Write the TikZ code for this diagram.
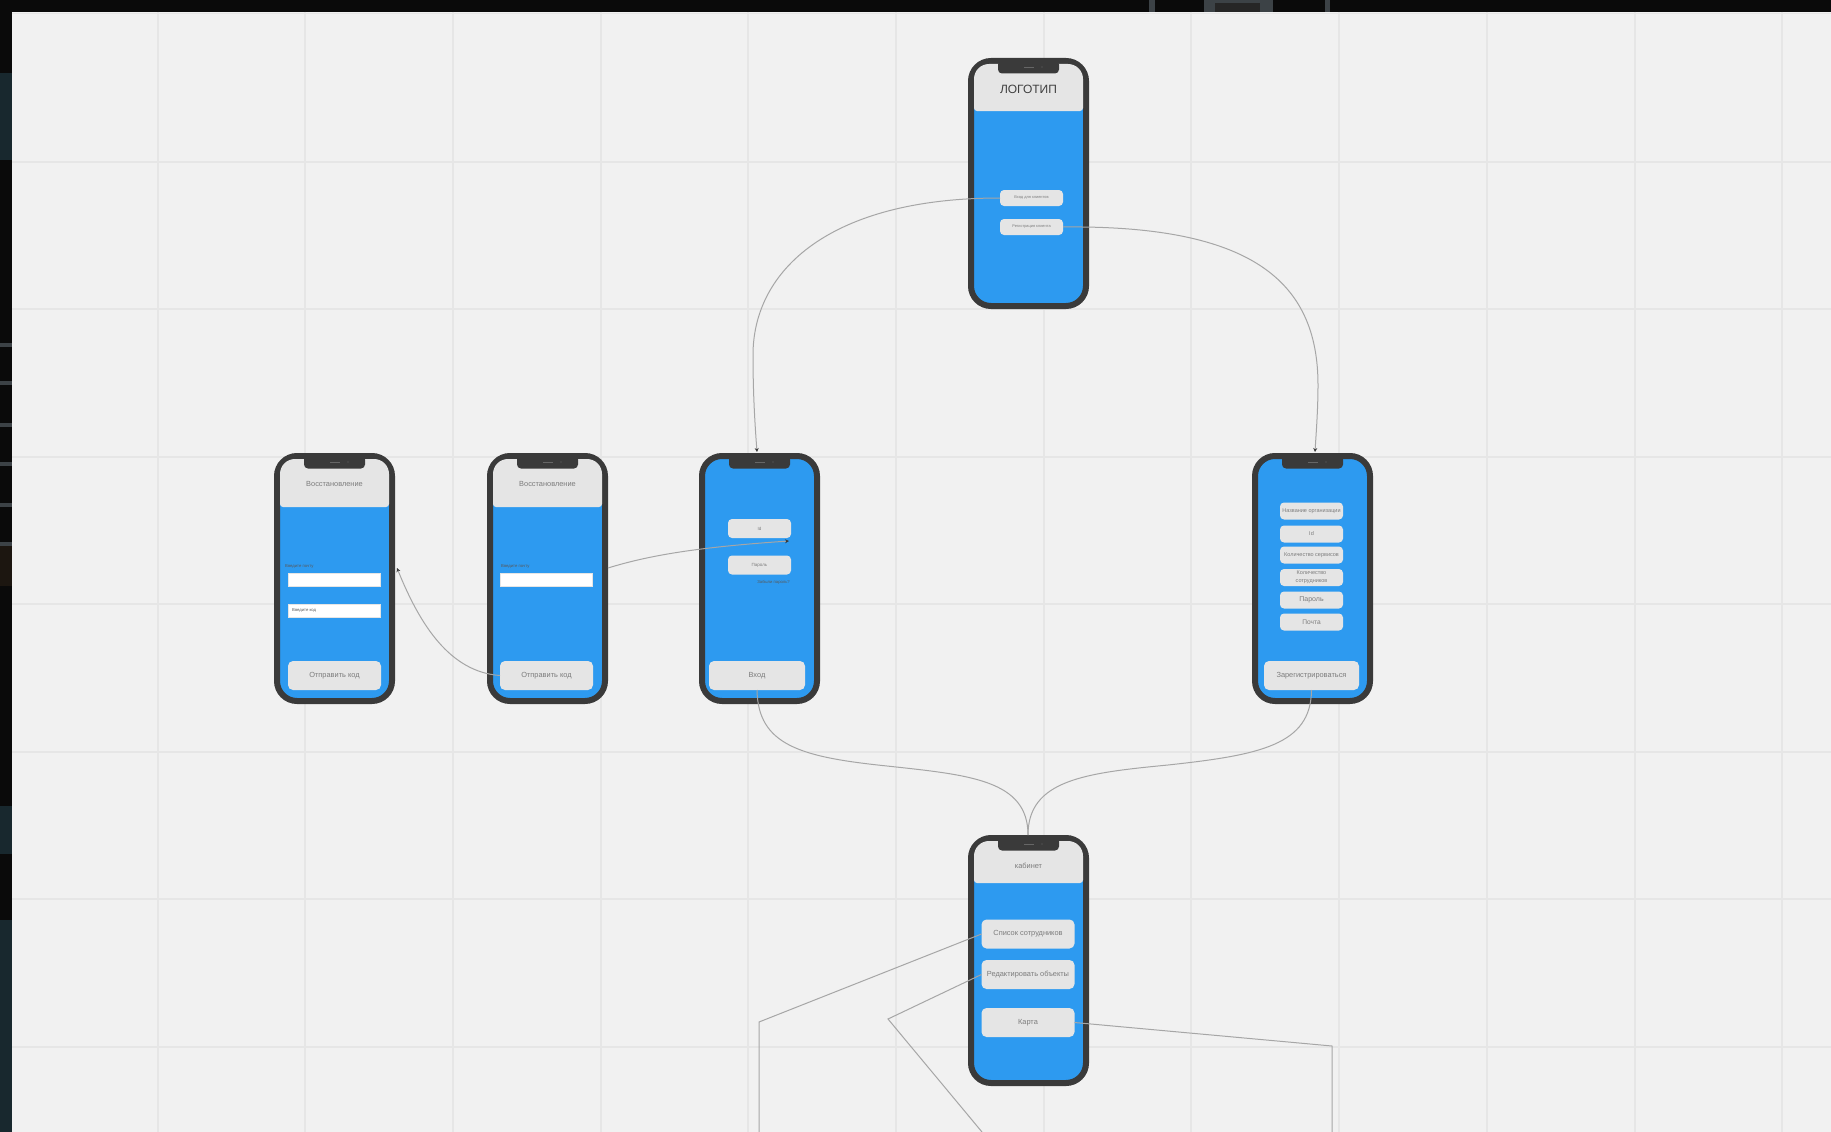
\documentclass[tikz,border=0pt]{standalone}
\usepackage{fontspec}
\usepackage{xcolor}
\setmainfont{Liberation Sans}
\usetikzlibrary{arrows.meta}

\definecolor{panelbg}{HTML}{F1F1F1}
\definecolor{gridgray}{HTML}{E6E6E6}
\definecolor{framedark}{HTML}{3A3A3A}
\definecolor{screenblue}{HTML}{2D9AF0}
\definecolor{boxgray}{HTML}{E5E5E5}
\definecolor{linegray}{HTML}{A6A6A6}
\definecolor{textgray}{HTML}{7C7C7C}
\definecolor{edgeteal}{HTML}{18282E}
\definecolor{edgebrown}{HTML}{1C1610}
\definecolor{edgestreak}{HTML}{3C4246}

\tikzset{
  gridline/.style={gridgray, line width=2pt},
  phone/.style={draw=framedark, fill=screenblue, line width=6pt, rounded corners=20pt,
    minimum width=115pt, minimum height=245pt, inner sep=0pt, outer sep=0pt},
  notch/.style={fill=framedark, rounded corners=4pt, minimum width=61pt, minimum height=13pt, inner sep=0pt},
  headtext/.style={text=textgray, font=\fontsize{7.4}{9}\selectfont, inner sep=0pt},
  uibox/.style={fill=boxgray, rounded corners=4pt, inner sep=0pt, outer sep=0pt, align=center, text=textgray},
  tinybtn/.style={uibox, minimum width=63pt, minimum height=16pt, font=\fontsize{3.9}{5}\selectfont},
  smallbtn/.style={uibox, minimum width=63pt, minimum height=17pt, font=\fontsize{5.5}{8}\selectfont},
  midbtn/.style={uibox, minimum width=63pt, minimum height=19pt, font=\fontsize{4.5}{6}\selectfont},
  widebtn/.style={uibox, rounded corners=5pt, minimum width=93pt, minimum height=29pt, font=\fontsize{7.4}{9}\selectfont},
  field/.style={fill=white, draw=boxgray, line width=0.6pt, minimum width=92pt, minimum height=13pt,
    inner sep=0pt, outer sep=0pt},
  hint/.style={text=black!65, font=\fontsize{4.2}{5}\selectfont, inner sep=0pt},
  link/.style={draw=linegray, line width=1pt},
  linkarrow/.style={link, -{Stealth[length=4pt, width=4pt, color=framedark]}},
}

% name, left, top, height of the grey head, head text
\newcommand{\phoneframe}[5]{
  \node[phone] (#1) at ({#2+60.5},{#3+125.5}) {};
  \ifnum#4>0
    \fill[boxgray, rounded corners=3pt] ({#2+6},{#3+#4}) [rounded corners=15pt] -- ({#2+6},{#3+6})
      -- ({#2+115},{#3+6}) [rounded corners=3pt] -- ({#2+115},{#3+#4}) -- cycle;
    \node[headtext] (#1head) at ({#2+60.5},{#3+31}) {#5};
  \fi
  \node[notch] (#1notch) at ({#2+60.5},{#3+9}) {};
  \draw[black!60, line width=0.6pt] ({#2+56},{#3+9}) -- ({#2+66},{#3+9});
  \fill[black!60] ({#2+74},{#3+9}) circle (0.6pt);
}

\begin{document}
\begin{tikzpicture}[x=1pt, y=-1pt]
\useasboundingbox (0,0) rectangle (1831,1132);

% Backdrop
\fill[black!96] (0,0) rectangle (1831,1132);
\fill[edgeteal] (0,73) rectangle (12,160);
\foreach \sy in {343,381,423,462,503,542} {
  \fill[edgestreak] (0,\sy) rectangle (12,\sy+4);
}
\fill[edgebrown] (0,546) rectangle (12,586);
\fill[edgeteal] (0,806) rectangle (12,854);
\fill[edgeteal] (0,920) rectangle (12,1132);
\fill[edgestreak] (1149,0) rectangle (1155,12);
\fill[edgestreak] (1204,0) rectangle (1273,12);
\fill[black!85] (1215,3) rectangle (1260,12);
\fill[edgestreak] (1325,0) rectangle (1330,12);
\fill[panelbg] (12,12) rectangle (1831,1132);

% Grid
\foreach \gx in {0,...,11} {
  \draw[gridline] ({157.5+147.7*\gx},12) -- ({157.5+147.7*\gx},1132);
}
\foreach \gy in {0,...,6} {
  \draw[gridline] (12,{161.5+147.5*\gy}) -- (1831,{161.5+147.5*\gy});
}
\draw[gridline, line width=1pt] (12,14) -- (1831,14);

% Phones
\phoneframe{logoscreen}{968}{58}{53}{{\fontsize{12}{14}\selectfont\color{black!75}ЛОГОТИП}}
\phoneframe{resetcode}{274}{453}{54}{Восстановление}
\phoneframe{resetsend}{487}{453}{54}{Восстановление}
\phoneframe{loginscreen}{699}{453}{0}{}
\phoneframe{signup}{1252}{453}{0}{}
\phoneframe{cabinet}{968}{835}{48}{кабинет}

% Logo screen
\node[tinybtn] (enter) at (1031.5,198) {Вход для клиентов};
\node[tinybtn] (register) at (1031.5,227) {Регистрация клиента};

% Reset screens
\node[hint, anchor=west] (codelabel) at (285,566) {Введите почту};
\node[field] (codemail) at (334.5,579.5) {};
\node[field] (codeinput) at (334.5,610.5) {};
\node[hint, anchor=west] (codetext) at (292,610) {Введите код};
\node[widebtn] (codesend) at (334.5,675.5) {Отправить код};
\coordinate (code side) at (397,568);

\node[hint, anchor=west] (maillabel) at (501,566) {Введите почту};
\node[field] (mailinput) at (546.5,579.5) {};
\node[widebtn] (mailsend) at (546.5,675.5) {Отправить код};
\coordinate (mail side) at (608,568);

% Login screen
\node[midbtn] (loginid) at (759.5,528.5) {Id};
\node[midbtn] (loginpass) at (759.5,565) {Пароль};
\node[hint, anchor=east] (forgot) at (790,582) {Забыли пароль?};
\node[widebtn, minimum width=96pt] (loginbtn) at (757,675.5) {Вход};
\coordinate (loginid mark) at (789,541);
\coordinate (login top) at (757,452);

% Sign up screen
\node[smallbtn] (orgname) at (1311.5,511) {Название организации};
\node[smallbtn] (orgid) at (1311.5,534) {Id};
\node[smallbtn] (orgcount) at (1311.5,555) {Количество сервисов};
\node[smallbtn] (orgstaff) at (1311.5,577.5) {Количество\\сотрудников};
\node[smallbtn, font=\fontsize{7}{9}\selectfont] (orgpass) at (1311.5,600) {Пароль};
\node[smallbtn, font=\fontsize{6.6}{8}\selectfont] (orgmail) at (1311.5,622) {Почта};
\node[widebtn, minimum width=95pt] (signupbtn) at (1311.5,675.5) {Зарегистрироваться};
\coordinate (signup top) at (1315,452);

% Cabinet screen
\node[widebtn] (staff) at (1028,934) {Список сотрудников};
\node[widebtn] (objects) at (1028,974.5) {Редактировать объекты};
\node[widebtn] (map) at (1028,1022.5) {Карта};
\coordinate (cabinet top) at (1028,835);

% Connectors
\draw[linkarrow] (enter.west) .. controls (830,198) and (753,270) .. (753,355)
  .. controls (753,395) and (755,425) .. (login top);
\draw[linkarrow] (register.east) .. controls (1250,225) and (1318,280) .. (1318,385)
  .. controls (1318,410) and (1316,435) .. (signup top);
\draw[linkarrow] (mailsend.west) .. controls (450,672) and (420,625) .. (code side);
\draw[linkarrow] (mail side) .. controls (650,555) and (700,547) .. (loginid mark);
\draw[link] (loginbtn.south) .. controls (758,745) and (800,757) .. (887,766)
  .. controls (970,775) and (1028,780) .. (cabinet top);
\draw[link] (signupbtn.south) .. controls (1311,745) and (1260,755) .. (1168,765)
  .. controls (1085,773) and (1028,780) .. (cabinet top);

% Lines running off the panel
\coordinate (staff bend) at (759,1022);
\coordinate (staff end) at (759,1132);
\coordinate (objects bend) at (888,1019);
\coordinate (objects end) at (982,1132);
\coordinate (map bend) at (1332,1046);
\coordinate (map end) at (1332,1132);
\draw[link] (staff.west) -- (staff bend) -- (staff end);
\draw[link] (objects.west) -- (objects bend) -- (objects end);
\draw[link] (map.east) -- (map bend) -- (map end);
\end{tikzpicture}
\end{document}
